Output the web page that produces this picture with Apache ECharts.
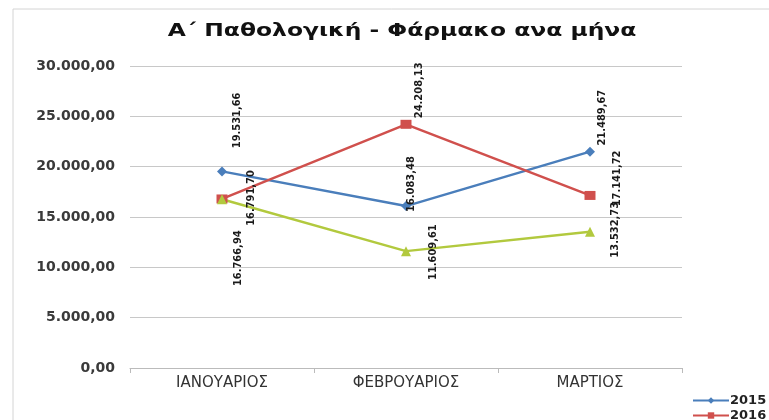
<!DOCTYPE html>
<html><head><meta charset="utf-8">
<script src="https://cdn.jsdelivr.net/npm/echarts@6/dist/echarts.min.js"></script>
<style>html,body{margin:0;padding:0;background:#fff}#c{width:769px;height:420px}</style>
</head><body><div id="c"></div>
<script>
const chartTitle = 'Α΄ Παθολογική - Φάρμακο ανα μήνα';
const categories = ['ΙΑΝΟΥΑΡΙΟΣ', 'ΦΕΒΡΟΥΑΡΙΟΣ', 'ΜΑΡΤΙΟΣ'];
const seriesNames = ['2015', '2016', '2017'];
const values2015 = [19531.66, 16083.48, 21489.67];
const values2016 = [16791.70, 24208.13, 17141.72];
const values2017 = [16766.94, 11609.61, 13532.73];
const colors = ['#4a7ebb', '#d0504d', '#b2c93e'];

function fmt(v) {
  const parts = v.toFixed(2).split('.');
  return parts[0].replace(/\B(?=(\d{3})+(?!\d))/g, '.') + ',' + parts[1];
}
const labelFont = {fontFamily: '"DejaVu Sans Condensed", "Liberation Sans Narrow", sans-serif', fontSize: 11, fontWeight: 'bold', color: '#1a1a1a'};
// sx, sy: desired on-screen shift of the label centre from the point (offset is applied in rotated frame)
function lbl(sx, sy) {
  return Object.assign({show: true, rotate: 90, position: 'inside', align: 'center', verticalAlign: 'middle',
    offset: [-sy, sx], formatter: p => fmt(p.value)}, labelFont);
}
function mkData(vals, labels) {
  return vals.map((v, i) => ({value: v, label: labels[i]}));
}
const chart = echarts.init(document.getElementById('c'));
chart.setOption({
  animation: false,
  color: colors,
  graphic: [
    {type: 'rect', shape: {x: 13, y: 9, width: 770, height: 420}, style: {fill: 'none', stroke: '#d4d4d4', lineWidth: 1}},
    {type: 'text', x: 402, y: 31, scaleX: 1.3, style: {text: chartTitle, align: 'center', verticalAlign: 'middle',
      fontFamily: '"DejaVu Sans", sans-serif', fontSize: 18, fontWeight: 'bold', fill: '#111'}}
  ],
  legend: {orient: 'vertical', left: 687, top: 389, height: 100, itemGap: 2, itemWidth: 36, itemHeight: 8,
    textStyle: {fontFamily: '"DejaVu Sans", sans-serif', fontSize: 13, fontWeight: 'bold', color: '#222', padding: [0, 0, 0, -4]},
    data: seriesNames},
  grid: {left: 130, right: 87, top: 66, bottom: 52},
  xAxis: {type: 'category', data: categories, boundaryGap: true,
    axisLine: {lineStyle: {color: '#bbb'}}, axisTick: {show: true, lineStyle: {color: '#bbb'}},
    axisLabel: {fontFamily: '"DejaVu Sans", sans-serif', fontSize: 15, color: '#333', margin: 8}},
  yAxis: {type: 'value', min: 0, max: 30000, interval: 5000,
    axisLine: {show: false}, axisTick: {show: false},
    splitLine: {lineStyle: {color: '#c8c8c8'}},
    axisLabel: {fontFamily: '"DejaVu Sans", sans-serif', fontSize: 14, fontWeight: 'bold', color: '#3a3a3a', margin: 15, formatter: v => fmt(v)}},
  series: [
    {name: seriesNames[0], type: 'line', symbol: 'diamond', symbolSize: 10, lineStyle: {width: 2.5},
      data: mkData(values2015, [lbl(15, -51), lbl(5, -22), lbl(12, -34)])},
    {name: seriesNames[1], type: 'line', symbol: 'rect', symbolSize: [11, 9], lineStyle: {width: 2.5},
      data: mkData(values2016, [lbl(29, -1), lbl(13, -34), lbl(27, -17)])},
    {name: seriesNames[2], type: 'line', symbol: 'triangle', symbolSize: 10, lineStyle: {width: 2.5},
      data: mkData(values2017, [lbl(16, 59), lbl(27, 1), lbl(25, -2)])}
  ]
});
</script></body></html>
